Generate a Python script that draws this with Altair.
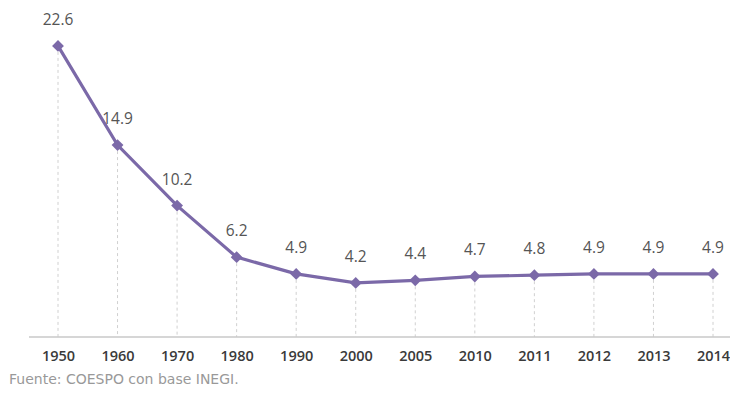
import altair as alt
import pandas as pd

years = ["1950", "1960", "1970", "1980", "1990", "2000", "2005", "2010", "2011", "2012", "2013", "2014"]
values = [22.6, 14.9, 10.2, 6.2, 4.9, 4.2, 4.4, 4.7, 4.8, 4.9, 4.9, 4.9]
labels = ["22.6", "14.9", "10.2", "6.2", "4.9", "4.2", "4.4", "4.7", "4.8", "4.9", "4.9", "4.9"]
source_text = "Fuente: COESPO con base INEGI."

df = pd.DataFrame({"year": years, "value": values, "label": labels})

PURPLE = "#7B69A8"
FONT = "Open Sans"

x_enc = alt.X("year:O", sort=years,
              scale=alt.Scale(type="point", domain=years, range=[29, 684], padding=0),
              axis=alt.Axis(title=None, labelAngle=0, ticks=False, grid=False, domain=False,
                            labelFont=FONT, labelFontSize=14.5, labelFontWeight=600,
                            labelColor="#3a3a3a", labelPadding=12))
y_scale = alt.Scale(domain=[0, 25], nice=False, zero=True)

base = alt.Chart(df)

rules = base.mark_rule(color="#d0d0d0", strokeDash=[3, 3], strokeWidth=1).encode(
    x=x_enc,
    y=alt.Y("value:Q", scale=y_scale, axis=None),
    y2=alt.datum(0),
)

baseline = alt.Chart(pd.DataFrame({"b": [0]})).mark_rule(color="#c8c8c8", strokeWidth=1.3).encode(
    x=alt.value(0), x2=alt.value(701), y=alt.value(322)
)

line = base.mark_line(color=PURPLE, strokeWidth=3.2).encode(
    x=x_enc,
    y=alt.Y("value:Q", scale=y_scale, axis=None),
)

points = base.mark_point(shape="diamond", filled=True, color=PURPLE, size=140, opacity=1).encode(
    x=x_enc,
    y=alt.Y("value:Q", scale=y_scale, axis=None),
)

text = base.mark_text(dy=-26, font=FONT, fontSize=15.5, color="#555555").encode(
    x=x_enc,
    y=alt.Y("value:Q", scale=y_scale, axis=None),
    text="label:N",
)

src = alt.Chart(pd.DataFrame({"t": [source_text]})).mark_text(
    align="left", baseline="middle", font="DejaVu Sans", fontSize=14, color="#999999"
).encode(x=alt.value(-20), y=alt.value(365), text="t:N")

chart = alt.layer(rules, baseline, line, points, text, src).properties(
    width=701, height=322,
    background="white",
    autosize=alt.AutoSizeParams(type="none"),
    padding={"left": 29, "top": 15, "right": 0, "bottom": 60},
).configure_view(strokeWidth=0, stroke="transparent")

chart.save("out.html", embed_options={"renderer": "svg", "actions": False})
